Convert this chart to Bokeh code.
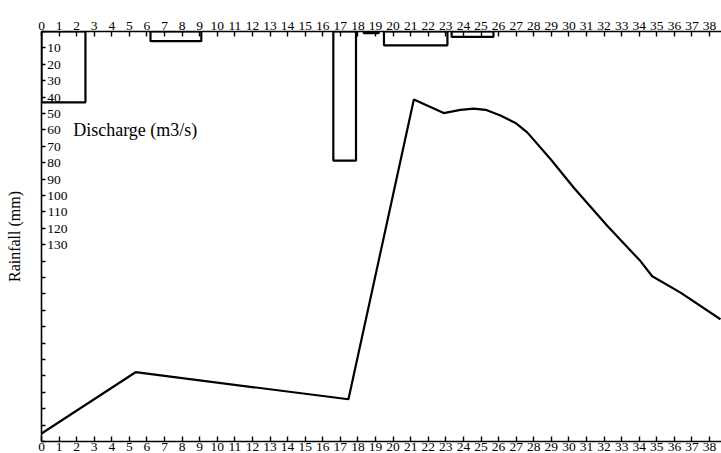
from bokeh.plotting import figure
from bokeh.models import Range1d, LinearAxis, FixedTicker, Label, ColumnDataSource
from bokeh.embed import file_html
from bokeh.resources import INLINE

# ---- data ----
x_ticks = list(range(0, 39))
rain_ticks = list(range(0, 260, 10))
rain_labelled = list(range(10, 140, 10))

rain_start = [0.0, 6.2, 16.6, 18.33, 19.48, 23.33]
rain_end = [2.5, 9.09, 17.89, 19.18, 23.09, 25.71]
rain_mm = [43.2, 5.9, 78.7, 1.0, 8.4, 3.3]

q_time = [0.0, 5.35, 17.46, 21.18, 22.88, 23.83, 24.59, 25.26, 26.11, 26.96,
          27.63, 28.95, 30.28, 32.18, 34.07, 34.74, 36.35, 38.62]
q_value = [1.96, 16.9, 10.3, 83.4, 80.1, 80.9, 81.2, 80.9, 79.5, 77.7,
           75.4, 68.9, 61.9, 52.6, 44.0, 40.3, 36.3, 29.8]

FONT = "Liberation Serif"

p = figure(width=721, height=453, output_backend="svg", toolbar_location=None,
           x_range=Range1d(0, 38.68), y_range=Range1d(250, 0),
           x_axis_location=None, y_axis_location=None,
           min_border_left=41, min_border_right=0, min_border_top=31,
           min_border_bottom=0)
p.extra_y_ranges = {"q": Range1d(0, 100)}
p.grid.visible = False
p.outline_line_color = None
p.background_fill_color = "white"


def style(ax):
    ax.axis_line_width = 1.6
    ax.axis_line_color = "black"
    ax.major_tick_line_width = 1.4
    ax.major_tick_line_color = "black"
    ax.major_tick_in = 5
    ax.major_tick_out = 0
    ax.minor_tick_line_color = None
    ax.major_label_text_font = FONT
    ax.major_label_text_font_size = "13.5px"
    ax.major_label_text_color = "black"


top = LinearAxis(ticker=FixedTicker(ticks=x_ticks))
style(top)
top.major_label_standoff = 2
p.add_layout(top, "above")

bottom = LinearAxis(ticker=FixedTicker(ticks=x_ticks))
style(bottom)
bottom.major_label_standoff = 1
p.add_layout(bottom, "below")

FIGSP = "\u2007"
left = LinearAxis(ticker=FixedTicker(ticks=rain_ticks))
style(left)
left.major_tick_in = 4
left.major_label_overrides = {
    t: ((str(t) + FIGSP * (3 - len(str(t)))) if t in rain_labelled else "")
    for t in rain_ticks}
left.major_label_standoff = -26
left.axis_label = "Rainfall (mm)"
left.axis_label_text_font = FONT
left.axis_label_text_font_style = "normal"
left.axis_label_text_font_size = "16px"
left.axis_label_text_color = "black"
left.axis_label_standoff = 21
p.add_layout(left, "left")

src = ColumnDataSource(dict(left=rain_start, right=rain_end, top=[0] * len(rain_mm), bottom=rain_mm))
p.quad(left="left", right="right", top="top", bottom="bottom", source=src,
       fill_alpha=0, line_color="black", line_width=2.2)

p.line(q_time, q_value, y_range_name="q", line_color="black", line_width=2.2)

p.add_layout(Label(x=1.8, y=60, text="Discharge (m3/s)", text_font=FONT,
                   text_font_size="18px", text_baseline="middle", text_color="black"))

open("out.html", "w").write(file_html(p, INLINE))
